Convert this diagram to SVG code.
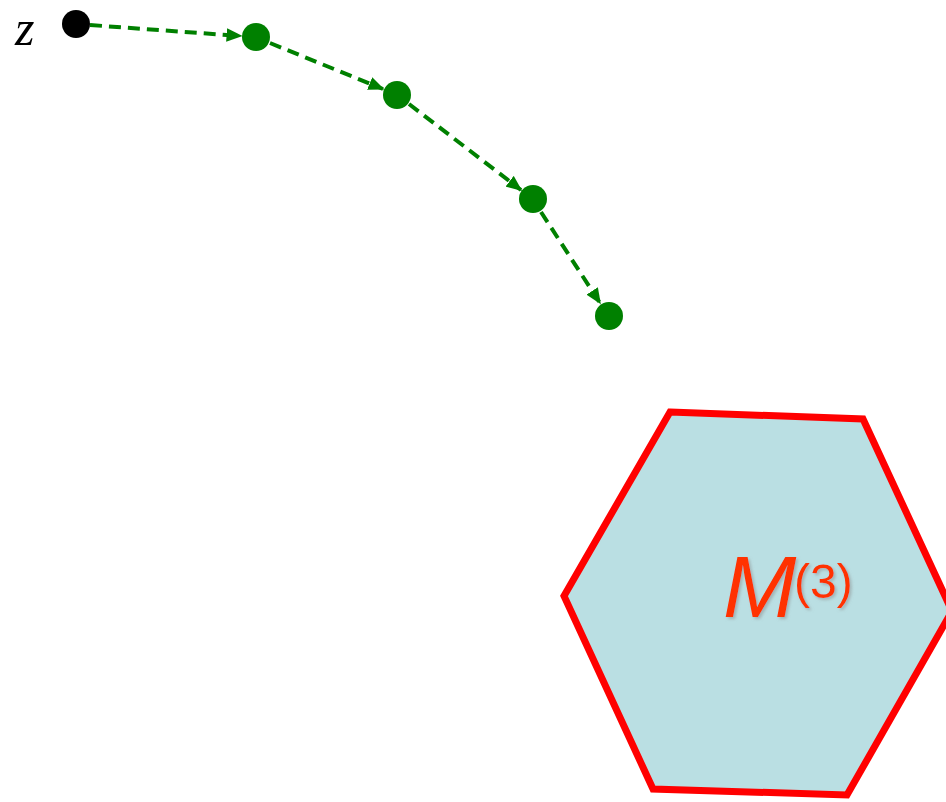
<svg xmlns="http://www.w3.org/2000/svg" width="946" height="802" viewBox="0 0 946 802">
<style>
.conn{stroke:#008000;stroke-width:4;stroke-dasharray:12,7;fill:none}
.gn{fill:#008000}
</style>
<defs>
<marker id="ah" markerWidth="4" markerHeight="3.4" refX="3.6" refY="1.7" orient="auto" markerUnits="strokeWidth">
<path d="M0,0 L4,1.7 L0,3.4 Z" fill="#008000"/>
</marker>
<filter id="sh" x="-10%" y="-10%" width="130%" height="130%">
<feDropShadow dx="2" dy="2" stdDeviation="1.5" flood-color="#888" flood-opacity="0.5"/>
</filter>
</defs>
<rect width="946" height="802" fill="#fff"/>
<g id="hexagon">
<polygon points="670,412 863,419 952,611 847,795 653,789 564,596" fill="#badfe3" stroke="#ff0000" stroke-width="7" stroke-linejoin="miter"/>
<text x="723" y="617" font-family="Liberation Sans, Arial, sans-serif" font-style="italic" font-size="88" fill="#ff3300" filter="url(#sh)">M</text>
<text x="794" y="598" font-family="Liberation Sans, Arial, sans-serif" font-size="48" fill="#ff3300" filter="url(#sh)">(3)</text>
</g>
<g id="connectors">
<line class="conn" x1="90" y1="25" x2="241" y2="36" marker-end="url(#ah)"/>
<line class="conn" x1="270" y1="43" x2="383" y2="89" marker-end="url(#ah)"/>
<line class="conn" x1="409" y1="104" x2="521" y2="190" marker-end="url(#ah)"/>
<line class="conn" x1="541" y1="212" x2="600" y2="303" marker-end="url(#ah)"/>
</g>
<g id="z">
<circle cx="76" cy="24" r="14" fill="#000"/>
<text x="15" y="45" font-family="Liberation Serif, Times New Roman, serif" font-style="italic" font-size="50" fill="#000">z</text>
</g>
<g id="n1"><circle class="gn" cx="256" cy="37" r="14"/></g>
<g id="n2"><circle class="gn" cx="397" cy="95" r="14"/></g>
<g id="n3"><circle class="gn" cx="533" cy="199" r="14"/></g>
<g id="n4"><circle class="gn" cx="609" cy="316" r="14"/></g>
</svg>
